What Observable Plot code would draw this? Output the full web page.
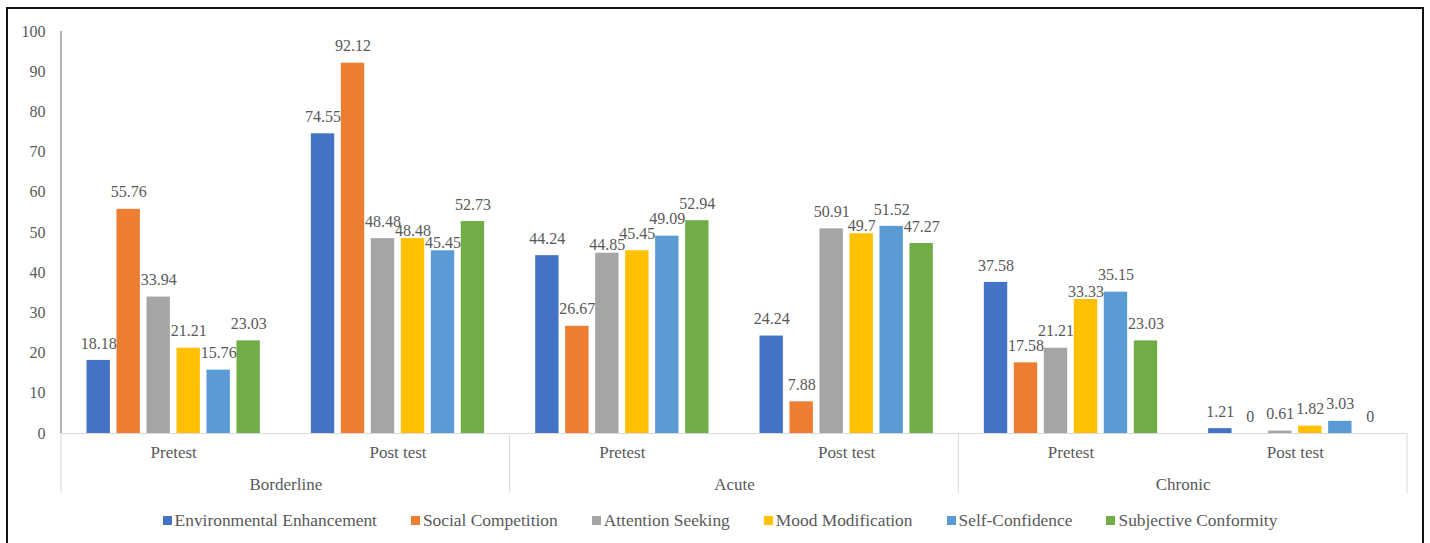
<!DOCTYPE html>
<html><head><meta charset="utf-8">
<script src="https://cdn.jsdelivr.net/npm/d3@7"></script>
<script src="https://cdn.jsdelivr.net/npm/@observablehq/plot@0.6"></script>
<style>
body{margin:0;background:#fff;font-family:'Liberation Serif','Times New Roman',Times,serif;}
#wrap{position:relative;width:1430px;height:543px;overflow:hidden;background:#fff;}
#frame{position:absolute;left:6px;top:7px;width:1418px;height:560px;border:2px solid #111;box-sizing:border-box;pointer-events:none;}
#legend{display:flex;justify-content:center;gap:34px;font-size:17.4px;color:#595959;padding-top:11px;padding-left:10px;line-height:18px;}
#legend .item{display:flex;align-items:center;white-space:nowrap;}
#legend .sw{display:inline-block;width:9px;height:9px;margin-right:3px;}
#chart svg text{font-family:'Liberation Serif','Times New Roman',Times,serif;}
</style>
</head><body>
<div id="wrap"><div id="chart"></div><div id="legend"></div><div id="frame"></div></div>
<script>
const groups = ["Borderline", "Acute", "Chronic"];
const tests = ["Pretest", "Post test"];
const series = ["Environmental Enhancement", "Social Competition", "Attention Seeking", "Mood Modification", "Self-Confidence", "Subjective Conformity"];
const colors = ["#4472C4", "#ED7D31", "#A5A5A5", "#FFC000", "#5B9BD5", "#70AD47"];
const yTicks = [0, 10, 20, 30, 40, 50, 60, 70, 80, 90, 100];

const borderlinePretest = [18.18, 55.76, 33.94, 21.21, 15.76, 23.03];
const borderlinePosttest = [74.55, 92.12, 48.48, 48.48, 45.45, 52.73];
const acutePretest = [44.24, 26.67, 44.85, 45.45, 49.09, 52.94];
const acutePosttest = [24.24, 7.88, 50.91, 49.7, 51.52, 47.27];
const chronicPretest = [37.58, 17.58, 21.21, 33.33, 35.15, 23.03];
const chronicPosttest = [1.21, 0, 0.61, 1.82, 3.03, 0];

const valueSets = [
  [borderlinePretest, borderlinePosttest],
  [acutePretest, acutePosttest],
  [chronicPretest, chronicPosttest]
];

// layout constants
const W = 1430, H = 500, mL = 61, mR = 23, mT = 31, mB = 67;
const pxPerUnit = (H - mT - mB) / 100;
const barStep = (W - mL - mR) / 6 / (6 - 0.22 + 2 * 0.85);
const labelSize = 16;
const normalOff = 17, nearOff = 8;
const textWidth = s => [...s].reduce((w, c) => w + (c === "." ? 0.25 : 0.5) * labelSize, 0);

const subgroups = [];
const rows = [];
groups.forEach((g, gi) => {
  tests.forEach((t, ti) => {
    const key = g + "|" + t;
    subgroups.push({key, group: g, test: t, first: ti === 0});
    const grp = series.map((s, si) => {
      const value = valueSets[gi][ti][si];
      return {key, group: g, test: t, series: s, value, label: String(value), near: false};
    });
    // simple label collision avoidance (like the spreadsheet's placement)
    const ly = r => r.value * pxPerUnit + (r.near ? nearOff : normalOff);
    for (let i = 1; i < grp.length; i++) {
      const a = grp[i - 1], b = grp[i];
      const xOverlap = (textWidth(a.label) + textWidth(b.label)) / 2 > barStep;
      if (xOverlap && Math.abs(ly(a) - ly(b)) < 12) {
        if (a.value < b.value) a.near = true; else b.near = true;
      }
    }
    rows.push(...grp);
  });
});
const keys = subgroups.map(d => d.key);
const textColor = "#595959";
const font = "'Liberation Serif', 'Times New Roman', Times, serif";

const plot = Plot.plot({
  width: W,
  height: H,
  marginLeft: mL,
  marginRight: mR,
  marginTop: mT,
  marginBottom: mB,
  style: {fontFamily: font, fontSize: "16px", color: textColor, background: "transparent"},
  fx: {domain: keys, padding: 0, round: false, axis: null},
  x: {domain: series, paddingInner: 0.22, paddingOuter: 0.85, round: false, axis: null},
  y: {domain: [0, 100]},
  color: {domain: series, range: colors},
  marks: [
    Plot.axisY({ticks: yTicks, tickSize: 0, tickPadding: 16, fontSize: 16, fill: textColor, label: null}),
    Plot.barY(rows, {fx: "key", x: "series", y: "value", fill: "series"}),
    Plot.ruleY([0], {stroke: "#d9d9d9", strokeWidth: 1}),
    Plot.text(rows.filter(d => !d.near), {fx: "key", x: "series", y: "value", text: "label", dy: -normalOff, fontSize: labelSize, fill: textColor}),
    Plot.text(rows.filter(d => d.near), {fx: "key", x: "series", y: "value", text: "label", dy: -nearOff, fontSize: labelSize, fill: textColor}),
    Plot.text(subgroups, {fx: "key", text: "test", frameAnchor: "bottom", dy: 24, fontSize: 17, fill: textColor}),
    Plot.text(subgroups.filter(d => d.first), {fx: "key", text: "group", frameAnchor: "bottom-right", textAnchor: "middle", dy: 56, fontSize: 17, fill: textColor})
  ]
});
document.getElementById("chart").appendChild(plot);

// separators and y-axis line from the plot's own scales
const fx = plot.scale("fx");
const y = plot.scale("y");
const svg = d3.select(plot);
const y0 = y.apply(0);
const sepX = [fx.apply(keys[0]), fx.apply(keys[2]), fx.apply(keys[4]), fx.apply(keys[5]) + fx.bandwidth];
svg.append("g").selectAll("line").data(sepX).join("line")
  .attr("x1", d => d).attr("x2", d => d)
  .attr("y1", y0).attr("y2", y0 + 60)
  .attr("stroke", "#d9d9d9").attr("stroke-width", 1);
svg.append("line")
  .attr("x1", fx.apply(keys[0])).attr("x2", fx.apply(keys[0]))
  .attr("y1", y.apply(100)).attr("y2", y0)
  .attr("stroke", "#8a8a8a").attr("stroke-width", 1.3);

// legend
const legend = d3.select("#legend");
series.forEach((s, i) => {
  const it = legend.append("div").attr("class", "item");
  it.append("span").attr("class", "sw").style("background", colors[i]);
  it.append("span").text(s);
});
</script>
</body></html>
